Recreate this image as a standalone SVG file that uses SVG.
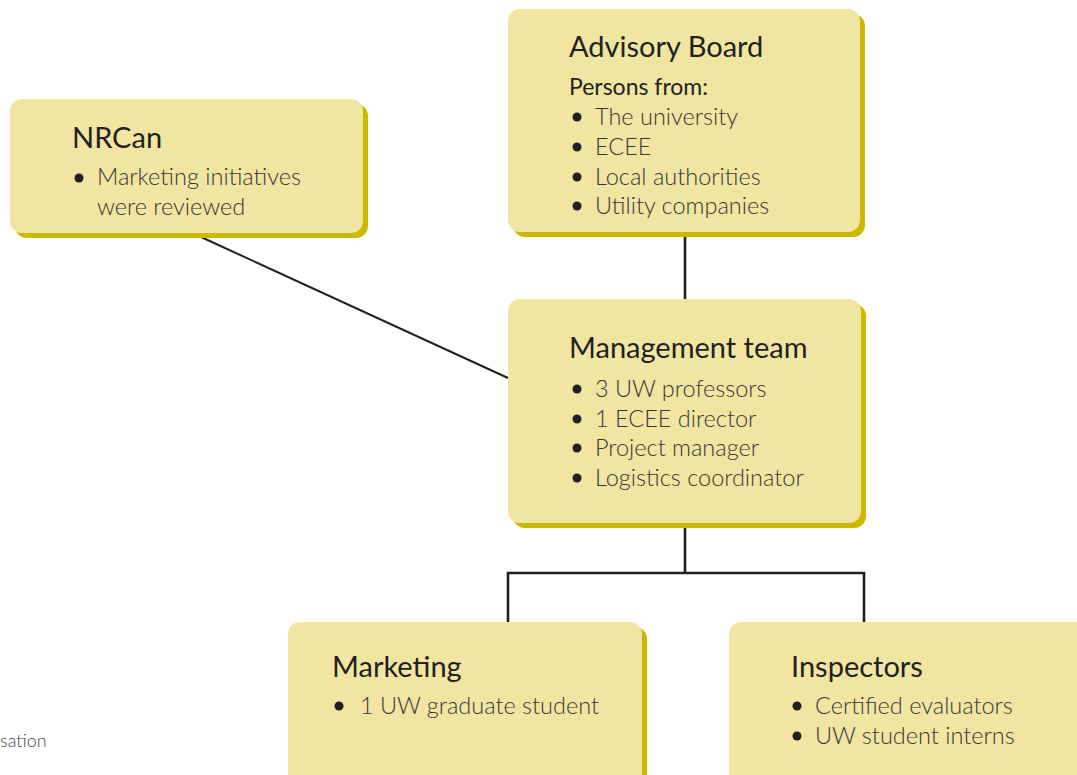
<svg xmlns="http://www.w3.org/2000/svg" width="1077" height="775" viewBox="0 0 1077 775">
<style>
.box{fill:#f0e6a1}
.sh{fill:#cdb800}
.t{font-family:Lato,"Liberation Sans",sans-serif;font-size:29px;fill:#231f20}
.b{font-family:Lato,"Liberation Sans",sans-serif;font-size:23.5px;font-weight:300;fill:#3a3637}
.d{fill:#231f20}
.c{stroke:#231f20;fill:none;stroke-width:2.6}
</style>
<rect width="1077" height="775" fill="#ffffff"/>
<g id="connectors">
<line class="c" x1="201" y1="237" x2="508" y2="378" style="stroke-width:2"/>
<line class="c" x1="685" y1="232" x2="685" y2="299"/>
<polyline class="c" points="685,523 685,573"/>
<polyline class="c" points="508,622 508,573 864,573 864,622"/>
</g>
<g id="nrcan">
<rect class="sh" x="15" y="104" width="353" height="134" rx="12"/>
<rect class="box" x="10" y="99" width="353" height="134" rx="12"/>
<text class="t" x="72" y="148">NRCan</text>
<circle class="d" cx="79" cy="178" r="4.5"/>
<text class="b" x="97" y="185">Marketing initiatives</text>
<text class="b" x="97" y="215">were reviewed</text>
</g>
<g id="advisory">
<rect class="sh" x="513" y="14" width="352" height="223" rx="12"/>
<rect class="box" x="508" y="9" width="352" height="223" rx="12"/>
<text class="t" x="569" y="57">Advisory Board</text>
<text class="b" x="569" y="95" style="fill:#231f20;font-weight:400;font-size:23px">Persons from:</text>
<circle class="d" cx="577" cy="117" r="4.5"/>
<text class="b" x="595" y="125">The university</text>
<circle class="d" cx="577" cy="147" r="4.5"/>
<text class="b" x="595" y="155">ECEE</text>
<circle class="d" cx="577" cy="177" r="4.5"/>
<text class="b" x="595" y="185">Local authorities</text>
<circle class="d" cx="577" cy="206" r="4.5"/>
<text class="b" x="595" y="214">Utility companies</text>
</g>
<g id="management">
<rect class="sh" x="513" y="304" width="353" height="224" rx="12"/>
<rect class="box" x="508" y="299" width="353" height="224" rx="12"/>
<text class="t" x="569" y="358">Management team</text>
<circle class="d" cx="577" cy="389" r="4.5"/>
<text class="b" x="595" y="397">3 UW professors</text>
<circle class="d" cx="577" cy="419" r="4.5"/>
<text class="b" x="595" y="427">1 ECEE director</text>
<circle class="d" cx="577" cy="448" r="4.5"/>
<text class="b" x="595" y="456">Project manager</text>
<circle class="d" cx="577" cy="478" r="4.5"/>
<text class="b" x="595" y="486">Logistics coordinator</text>
</g>
<g id="marketing">
<rect class="sh" x="293" y="627" width="354" height="170" rx="12"/>
<rect class="box" x="288" y="622" width="354" height="170" rx="12"/>
<text class="t" x="332" y="677">Marketing</text>
<circle class="d" cx="339" cy="706" r="4.5"/>
<text class="b" x="360" y="714">1 UW graduate student</text>
</g>
<g id="inspectors">
<rect class="box" x="729" y="622" width="370" height="170" rx="12"/>
<text class="t" x="791" y="677">Inspectors</text>
<circle class="d" cx="797" cy="706" r="4.5"/>
<text class="b" x="815" y="714">Certified evaluators</text>
<circle class="d" cx="797" cy="736" r="4.5"/>
<text class="b" x="815" y="744">UW student interns</text>
</g>
<text x="0" y="747" style="font-family:Lato,'Liberation Sans',sans-serif;font-size:18px;font-weight:300;fill:#444">sation</text>
</svg>
